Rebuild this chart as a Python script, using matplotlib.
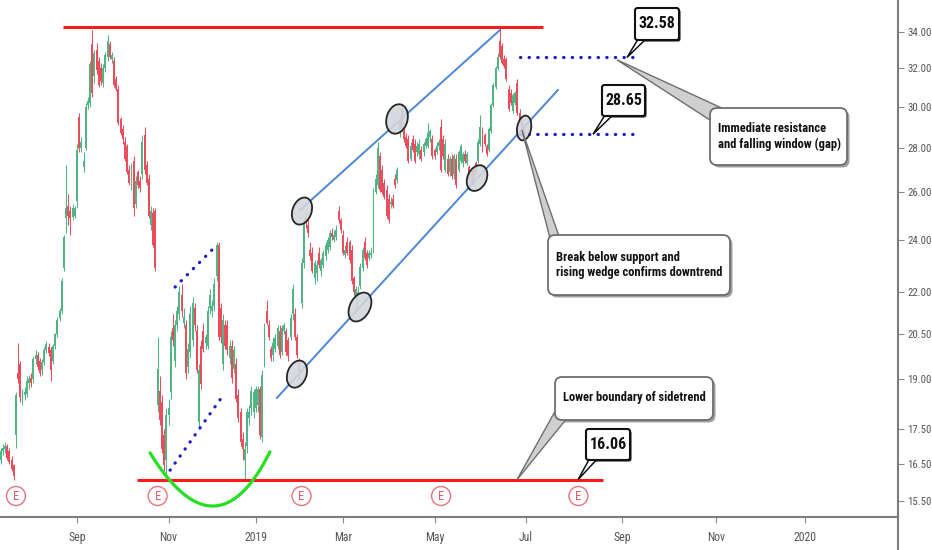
import numpy as np
import pandas as pd
import matplotlib
matplotlib.use("Agg")
import matplotlib.pyplot as plt
from matplotlib import font_manager as fm
from matplotlib.font_manager import FontProperties
from matplotlib.patches import Ellipse, FancyBboxPatch, Polygon, Circle
from matplotlib.ticker import NullLocator, NullFormatter

plt.rcParams['font.family'] = ['Liberation Sans', 'DejaVu Sans']

# ---------------- data (daily OHLC, one value per trading day) ----------------
opens = [
    16.60, 16.85, 16.90, 17.00, 16.85, 16.60, 16.45, 17.30, 19.20, 19.50,
    18.40, 18.50, 18.55, 18.90, 19.05, 19.00, 19.65, 19.80, 19.60, 19.30,
    19.55, 19.95, 20.05, 19.95, 19.60, 20.10, 20.50, 21.05, 21.30, 22.90,
    24.90, 25.40, 25.20, 24.95, 25.00, 25.60, 29.50, 28.00, 27.10, 28.00,
    30.10, 30.20, 33.30, 31.60, 33.00, 32.40, 32.00, 31.20, 32.00, 32.60,
    33.30, 32.50, 32.40, 31.40, 30.90, 29.40, 28.90, 28.30, 28.10, 27.00,
    26.30, 27.40, 25.50, 26.90, 26.50, 26.80, 28.60, 27.20, 26.60, 24.60,
    25.10, 25.20, 18.20, 18.65, 18.30, 17.30, 16.60, 17.90, 18.60, 20.70,
    19.60, 20.80, 21.20, 21.90, 20.90, 20.80, 19.40, 19.90, 20.30, 21.40,
    20.60, 17.70, 20.10, 20.60, 20.20, 20.10, 21.40, 21.30, 21.50, 22.60,
    23.80, 21.40, 19.50, 20.80, 20.80, 19.70, 20.10, 19.35, 19.50, 18.50,
    18.00, 17.20, 16.60, 17.00, 17.80, 18.10, 18.00, 18.10, 18.20, 18.70,
    17.25, 19.60, 21.30, 20.80, 20.00, 19.80, 20.00, 20.10, 20.60, 19.90,
    20.60, 20.60, 20.30, 20.40, 21.20, 21.20, 20.40, 19.60, 21.60, 23.10,
    24.90, 24.60, 23.60, 23.50, 22.50, 22.70, 23.50, 22.80, 23.00, 23.35,
    23.60, 23.70, 24.30, 24.00, 24.10, 25.20, 24.80, 24.20, 23.40, 23.90,
    23.90, 23.60, 22.50, 21.75, 21.90, 22.20, 22.90, 23.90, 23.50, 23.30,
    23.40, 23.60, 26.00, 26.30, 27.60, 27.00, 26.40, 26.10, 25.70, 25.50,
    25.70, 26.60, 26.55, 28.70, 29.90, 28.80, 28.50, 28.40, 27.50, 28.40,
    28.20, 27.80, 27.70, 27.90, 27.80, 28.10, 28.10, 28.50, 28.40, 27.90,
    27.80, 28.10, 29.00, 28.40, 27.00, 27.50, 26.90, 27.50, 26.80, 27.50,
    27.00, 27.40, 27.30, 27.70, 27.30, 27.10, 26.90, 27.00, 27.30, 27.40,
    28.20, 28.80, 28.60, 28.10, 27.90, 28.80, 30.10, 31.00, 32.00, 33.50,
    33.20, 32.50, 32.50, 30.90, 30.70, 29.80, 30.20, 31.20, 29.70, 29.30,
    29.00,
]
highs = [
    16.95, 17.05, 17.10, 17.05, 16.95, 16.70, 16.50, 18.60, 20.20, 19.60,
    18.70, 18.75, 19.10, 19.15, 19.20, 19.75, 19.95, 19.90, 19.70, 19.65,
    20.05, 20.25, 20.20, 20.05, 20.15, 20.55, 21.10, 21.40, 22.50, 24.20,
    27.20, 25.90, 25.40, 25.50, 25.40, 28.20, 29.70, 28.50, 27.80, 30.20,
    30.50, 32.40, 34.10, 33.00, 33.40, 32.60, 32.30, 32.20, 32.90, 33.80,
    33.50, 32.90, 32.60, 31.60, 31.10, 29.50, 29.10, 28.50, 28.20, 27.20,
    27.30, 27.60, 26.70, 27.00, 26.70, 28.60, 29.00, 27.40, 26.80, 25.40,
    25.30, 25.30, 20.40, 19.10, 18.50, 17.50, 18.10, 18.40, 20.60, 21.20,
    21.00, 21.50, 22.20, 22.30, 21.40, 21.00, 20.20, 21.50, 21.80, 21.60,
    20.80, 19.50, 20.30, 20.90, 20.50, 21.50, 22.10, 21.70, 22.50, 23.90,
    23.90, 21.60, 21.20, 21.00, 21.00, 20.30, 20.30, 20.10, 19.70, 18.70,
    18.10, 17.40, 17.10, 18.10, 18.20, 18.80, 18.70, 18.80, 18.80, 18.80,
    19.30, 20.90, 21.70, 21.00, 20.10, 20.40, 20.50, 20.80, 20.80, 20.80,
    20.90, 20.70, 20.40, 21.20, 22.30, 21.40, 20.50, 19.70, 23.30, 24.90,
    25.10, 24.80, 23.90, 23.70, 23.20, 23.20, 23.70, 23.30, 23.60, 23.90,
    24.10, 24.40, 24.50, 24.40, 24.60, 25.40, 24.90, 24.40, 23.80, 24.10,
    24.00, 23.80, 22.60, 22.20, 22.20, 23.10, 23.70, 24.10, 23.60, 23.60,
    23.70, 26.20, 26.80, 28.30, 27.80, 27.20, 26.60, 26.30, 25.90, 25.80,
    25.90, 26.80, 27.10, 29.40, 30.10, 29.00, 28.70, 28.60, 28.30, 28.60,
    28.40, 28.30, 28.40, 28.10, 28.30, 28.50, 29.20, 28.90, 28.60, 28.00,
    28.30, 28.40, 29.40, 28.60, 28.40, 27.70, 27.60, 27.70, 27.70, 27.70,
    27.90, 28.20, 27.80, 27.90, 27.80, 27.20, 27.00, 27.10, 27.40, 28.40,
    29.60, 29.00, 28.70, 28.20, 29.00, 30.20, 31.20, 32.10, 32.80, 34.20,
    33.40, 32.70, 32.60, 31.10, 30.90, 30.70, 30.80, 31.40, 29.90, 29.50,
    29.20,
]
lows = [
    16.50, 16.75, 16.80, 16.60, 16.50, 16.30, 16.05, 16.95, 18.90, 18.30,
    18.20, 18.35, 18.45, 18.70, 18.75, 18.90, 19.50, 19.30, 19.10, 19.15,
    19.45, 19.85, 19.75, 18.95, 19.50, 20.00, 20.40, 20.95, 21.20, 22.80,
    24.30, 24.60, 24.20, 24.80, 24.90, 25.30, 27.80, 27.80, 26.90, 27.90,
    29.90, 30.00, 30.50, 31.20, 31.70, 31.00, 31.10, 31.00, 31.80, 32.40,
    32.50, 32.30, 31.00, 30.80, 29.10, 28.60, 28.20, 27.40, 26.80, 26.30,
    26.10, 25.00, 25.30, 26.20, 26.00, 26.60, 26.80, 26.30, 24.90, 24.40,
    23.70, 22.80, 18.00, 17.60, 16.80, 16.20, 16.10, 17.60, 18.40, 20.10,
    19.40, 20.60, 21.00, 21.10, 20.70, 19.00, 19.20, 19.70, 20.10, 20.60,
    19.20, 17.50, 18.70, 19.90, 20.00, 20.00, 21.20, 21.10, 21.30, 22.40,
    20.30, 20.20, 19.30, 20.00, 19.80, 19.50, 18.90, 19.20, 18.30, 17.70,
    17.00, 16.60, 16.08, 16.80, 17.60, 17.90, 17.80, 18.00, 18.00, 17.20,
    17.10, 19.40, 20.80, 20.30, 19.60, 19.60, 19.90, 20.00, 19.70, 19.80,
    20.50, 19.80, 19.60, 20.30, 21.00, 20.30, 19.70, 19.00, 21.40, 22.90,
    24.50, 24.10, 23.20, 22.70, 22.30, 22.40, 22.90, 22.60, 22.90, 23.20,
    23.50, 23.60, 24.00, 23.90, 24.00, 24.70, 24.30, 23.40, 23.30, 23.40,
    23.10, 22.30, 21.90, 21.40, 21.60, 22.10, 22.80, 23.20, 22.90, 23.20,
    23.30, 23.50, 25.90, 26.20, 26.00, 25.90, 25.70, 24.90, 24.70, 25.30,
    25.30, 26.20, 26.40, 28.50, 28.80, 28.30, 28.00, 27.30, 27.40, 27.80,
    27.30, 27.60, 27.50, 27.40, 27.60, 28.00, 28.00, 28.30, 27.50, 27.50,
    27.70, 27.90, 26.90, 27.50, 26.90, 26.70, 26.70, 26.60, 26.60, 26.20,
    26.90, 27.30, 27.10, 27.30, 27.20, 26.50, 26.30, 26.30, 26.80, 27.30,
    28.10, 27.80, 28.10, 27.60, 27.80, 28.70, 30.00, 30.90, 31.90, 32.50,
    32.20, 32.00, 31.30, 29.80, 30.10, 29.70, 30.10, 29.60, 29.20, 28.80,
    28.60,
]
closes = [
    16.85, 16.95, 17.00, 16.65, 16.55, 16.35, 16.15, 18.50, 19.00, 18.45,
    18.55, 18.60, 18.95, 19.00, 18.90, 19.65, 19.80, 19.40, 19.20, 19.55,
    19.95, 20.15, 19.85, 19.30, 20.10, 20.50, 21.00, 21.30, 22.40, 24.10,
    25.30, 25.00, 24.90, 25.30, 25.30, 27.90, 28.00, 28.30, 27.40, 30.00,
    30.30, 32.20, 30.70, 32.80, 31.90, 31.10, 31.30, 32.00, 32.70, 33.50,
    32.60, 32.70, 31.10, 30.90, 29.20, 28.70, 28.40, 27.50, 26.90, 26.40,
    27.10, 25.30, 26.50, 26.30, 26.20, 28.30, 27.00, 26.40, 25.00, 25.20,
    23.80, 22.90, 19.35, 17.75, 16.90, 16.45, 17.90, 18.10, 20.40, 20.30,
    20.80, 21.30, 22.00, 21.30, 21.10, 19.20, 20.00, 21.20, 21.60, 20.80,
    19.30, 19.30, 18.85, 20.00, 20.40, 21.30, 21.90, 21.50, 22.30, 23.80,
    20.40, 20.40, 21.00, 20.10, 19.95, 20.10, 19.05, 19.95, 18.40, 17.80,
    17.10, 16.90, 16.90, 18.00, 18.00, 18.65, 18.60, 18.70, 18.70, 17.30,
    19.15, 20.70, 20.90, 20.40, 19.70, 20.20, 20.35, 20.70, 19.80, 20.70,
    20.80, 19.90, 19.75, 21.05, 22.10, 20.40, 19.80, 19.25, 23.10, 24.70,
    24.70, 24.30, 23.35, 22.80, 23.10, 23.00, 23.00, 23.20, 23.50, 23.80,
    24.00, 24.30, 24.10, 24.20, 24.40, 24.80, 24.40, 23.50, 23.60, 23.50,
    23.20, 22.40, 22.00, 22.10, 22.00, 22.95, 23.60, 23.30, 23.00, 23.50,
    23.50, 26.10, 26.60, 28.00, 26.10, 26.00, 25.80, 25.00, 24.80, 25.50,
    25.40, 26.30, 27.00, 29.30, 28.90, 28.40, 28.10, 27.40, 28.10, 27.90,
    27.40, 28.10, 28.20, 27.50, 28.20, 28.40, 28.70, 28.80, 27.60, 27.60,
    28.10, 28.30, 27.00, 27.60, 28.20, 26.80, 27.50, 26.70, 27.60, 26.30,
    27.80, 28.10, 27.70, 27.40, 27.70, 26.60, 26.40, 26.40, 26.90, 28.30,
    29.00, 27.90, 28.20, 27.70, 28.90, 30.10, 31.10, 32.00, 32.60, 32.60,
    32.30, 32.10, 31.40, 29.90, 30.20, 30.60, 30.70, 29.70, 29.30, 28.90,
    28.70,
]

start_date = "2018-07-16"
end_date = "2020-04-30"
market_holidays = ["2018-09-03", "2018-11-22", "2018-12-05", "2018-12-25",
                   "2019-01-01", "2019-01-21", "2019-02-18", "2019-04-19",
                   "2019-05-27", "2019-07-04", "2019-09-02", "2019-11-28",
                   "2019-12-25", "2020-01-01", "2020-01-20", "2020-02-17"]
month_starts = ["2018-09-01", "2018-11-01", "2019-01-01", "2019-03-01", "2019-05-01",
                "2019-07-01", "2019-09-01", "2019-11-01", "2020-01-01"]
month_labels = ["Sep", "Nov", "2019", "Mar", "May", "Jul", "Sep", "Nov", "2020"]
price_ticks = [15.50, 16.50, 17.50, 19.00, 20.50, 22.00, 24.00, 26.00, 28.00, 30.00, 32.00, 34.00]

resistance_level = 34.29
support_level = 16.06
gap_levels = [32.58, 28.65]
earnings_bars = [7, 72, 138, 202, 265]

# drawing geometry (bar index, price)
top_line_span = (28.6, 248.8)
bottom_line_span = (62.5, 276.3)
gap_line_span = (238.2, 291.9)
channel_upper = [(137.3, 25.23), (229.0, 34.11)]
channel_lower = [(126.7, 18.42), (255.6, 30.85)]
flag_upper = [(80.0, 22.18), (99.2, 23.80)]
flag_lower = [(77.7, 16.32), (101.5, 18.45)]
bowl = [(68.5, 16.80), (97.4, 15.37), (123.5, 16.83)]
touch_marks = [(138.2, 25.19, 19, 28, 20), (135.9, 19.17, 19, 28, 20),
               (164.8, 21.45, 20, 31, 28), (181.8, 29.39, 21, 30, 15),
               (218.5, 26.62, 19, 27, 25), (240.1, 28.95, 14, 25, 10)]

# ---------------- fonts: prefer a narrow sans if one is installed ----------------
def _wt(v):
    if isinstance(v, (int, float)):
        return float(v)
    return {'bold': 700, 'normal': 400, 'regular': 400, 'medium': 500, 'semibold': 600,
            'demibold': 600, 'light': 300, 'heavy': 800, 'black': 900}.get(str(v).lower(), 400)

NARROW_ORDER = ['Liberation Sans Narrow', 'Arial Narrow', 'Roboto Condensed',
                'Open Sans Condensed', 'Noto Sans Condensed', 'DejaVu Sans Condensed',
                'Noto Sans', 'DejaVu Sans', 'Open Sans', 'Roboto']

def pick_narrow(bold):
    best, best_key = None, None
    for f in fm.fontManager.ttflist:
        narrowish = ('Narrow' in f.name or 'Condensed' in f.name or
                     str(f.stretch) in ('condensed', 'semi-condensed', 'extra-condensed'))
        if not narrowish or f.style != 'normal':
            continue
        rank = NARROW_ORDER.index(f.name) if f.name in NARROW_ORDER else len(NARROW_ORDER)
        key = (rank, abs(_wt(f.weight) - (700 if bold else 400)),
               0 if str(f.stretch) in ('condensed', 'semi-condensed') else 1)
        if best_key is None or key < best_key:
            best, best_key = f, key
    return best

_nb = pick_narrow(True)
_nr = pick_narrow(False)
if _nb is not None and _nr is not None:
    FP_BOLD = FontProperties(fname=_nb.fname)
    FP_REG = FontProperties(fname=_nr.fname)
    NARROW = True
else:
    FP_BOLD = FontProperties(family='Liberation Sans', weight='bold')
    FP_REG = FontProperties(family='Liberation Sans')
    NARROW = False

def fs(narrow_size, wide_size):
    return narrow_size if NARROW else wide_size

# ---------------- figure ----------------
W, H = 932, 550
fig = plt.figure(figsize=(W / 100, H / 100), dpi=100)
fig.patch.set_facecolor('white')
ax = fig.add_axes([0, 33 / H, 898 / W, 517 / H])
ax.set_facecolor('white')
ax.set_yscale('log')
ax.set_ylim(15.09, 35.87)
ax.set_xlim(-0.32, 411.6)

UP, DOWN = '#4fb584', '#eb4d5c'
idx = np.arange(len(closes))
o = np.array(opens); c = np.array(closes)
cols = np.where(c >= o, UP, DOWN)
ax.vlines(idx, lows, highs, colors=cols, linewidth=0.75, zorder=2)
bot = np.minimum(o, c)
hgt = np.maximum(np.abs(c - o), 0.06)
ax.bar(idx, hgt, bottom=bot, width=0.9, color=cols, linewidth=0, zorder=3)

# axes styling
dates = pd.bdate_range(start_date, end_date, freq='C', holidays=market_holidays)
tick_pos = [int(dates.searchsorted(pd.Timestamp(m))) for m in month_starts]
ax.set_xticks(tick_pos)
ax.set_xticklabels(month_labels)
ax.yaxis.tick_right()
ax.yaxis.set_minor_locator(NullLocator())
ax.yaxis.set_minor_formatter(NullFormatter())
ax.set_yticks(price_ticks)
ax.set_yticklabels([f"{v:.2f}" for v in price_ticks])
ax.tick_params(axis='y', length=4, width=0.8, color='#8a8a8a', labelcolor='#555555', pad=2.5)
ax.tick_params(axis='x', length=4, width=0.8, color='#8a8a8a', labelcolor='#555555', pad=6)
for lbl in ax.get_yticklabels():
    lbl.set_fontproperties(FP_REG)
    lbl.set_fontsize(fs(7.8, 7.0))
for lbl in ax.get_xticklabels():
    lbl.set_fontproperties(FP_REG)
    lbl.set_fontsize(fs(8.5, 7.8))
for s in ['top', 'left']:
    ax.spines[s].set_visible(False)
for s in ['right', 'bottom']:
    ax.spines[s].set_color('#7d7d7d')
    ax.spines[s].set_linewidth(1.5)

# horizontal red levels
ax.hlines(resistance_level, *top_line_span, color='#ff1a1a', lw=2.2, zorder=4)
ax.hlines(support_level, *bottom_line_span, color='#ff1a1a', lw=2.2, zorder=4)

# channel lines
for seg in (channel_upper, channel_lower):
    ax.plot([p[0] for p in seg], [p[1] for p in seg], color='#4a86d8', lw=1.4, zorder=4)

# dotted blue lines
dot_kw = dict(color='#1a1ac8', lw=2.3, linestyle=(0, (0.1, 2.6)),
              dash_capstyle='round', zorder=4)
for lvl in gap_levels:
    ax.plot(list(gap_line_span), [lvl, lvl], **dot_kw)
for seg in (flag_upper, flag_lower):
    ax.plot([p[0] for p in seg], [p[1] for p in seg], **dot_kw)

# green bowl (quadratic through 3 points in display space)
(x0, y0), (xm, ym), (x2, y2) = bowl
ly0, lym, ly2 = np.log(y0), np.log(ym), np.log(y2)
xc = 2 * xm - (x0 + x2) / 2
lyc = 2 * lym - (ly0 + ly2) / 2
t = np.linspace(0, 1, 80)
bx = (1 - t) ** 2 * x0 + 2 * t * (1 - t) * xc + t ** 2 * x2
by = np.exp((1 - t) ** 2 * ly0 + 2 * t * (1 - t) * lyc + t ** 2 * ly2)
ax.plot(bx, by, color='#22e022', lw=2.3, solid_capstyle='round', zorder=4)

# ---------------- overlay (pixel space) ----------------
ov = fig.add_axes([0, 0, 1, 1])
ov.set_xlim(0, W)
ov.set_ylim(H, 0)
ov.axis('off')
ov.patch.set_alpha(0)
ov.set_zorder(5)

def px(i, p):
    d = ax.transData.transform((i, p))
    return d[0], H - d[1]

ov.plot([898, 898], [517, 550], color='#7d7d7d', lw=1.5)

for (i, p, w, h, ang) in touch_marks:
    cx, cy = px(i, p)
    ov.add_patch(Ellipse((cx, cy), w, h, angle=ang, fc='#d3d6db', ec='#111111',
                         lw=1.3, alpha=0.9, zorder=6))

for e in earnings_bars:
    ex, _ = px(e, 20)
    ov.add_patch(Circle((ex, 496), 9.5, fc='white', ec='#e8727e', lw=1.0, zorder=6))
    te = ov.text(ex, 496.5, 'E', ha='center', va='center', color='#e05a6a',
                 fontproperties=FP_REG, zorder=7)
    te.set_fontsize(fs(9, 8))

def gray_callout(x, y, w, h, tip, bases, text, tx, ty, ha):
    tpx = px(*tip)
    ov.add_patch(FancyBboxPatch((x + 2.5, y + 2.5), w, h, boxstyle='round,pad=0,rounding_size=7',
                                fc='#a0a0a0', ec='none', zorder=8))
    ov.add_patch(Polygon([tpx, bases[0], bases[1]], closed=True, fc='#cfcfcf', ec='#6e6e6e',
                         lw=1.0, zorder=8))
    ov.add_patch(FancyBboxPatch((x, y), w, h, boxstyle='round,pad=0,rounding_size=7',
                                fc='white', ec='#6e6e6e', lw=1.3, zorder=9))
    t_ = ov.text(tx, ty, text, ha=ha, va='center', color='#111111', linespacing=1.25, zorder=10,
                 fontproperties=FP_BOLD)
    t_.set_fontsize(fs(9.0, 7.8))

def price_callout(x, y, w, h, tip, bases, text):
    tpx = px(*tip)
    ov.add_patch(FancyBboxPatch((x + 1.5, y + 1.5), w, h, boxstyle='round,pad=0,rounding_size=2.5',
                                fc='#111111', ec='none', zorder=8))
    ov.add_patch(Polygon([tpx, bases[0], bases[1]], closed=True, fc='white', ec='#111111',
                         lw=1.1, zorder=8))
    ov.add_patch(FancyBboxPatch((x, y), w, h, boxstyle='round,pad=0,rounding_size=2.5',
                                fc='white', ec='#111111', lw=1.5, zorder=9))
    t_ = ov.text(x + w / 2, y + h / 2, text, ha='center', va='center', color='#111111', zorder=10,
                 fontproperties=FP_BOLD)
    t_.set_fontsize(fs(11.5, 10))

gray_callout(710, 108, 137, 57, (282.7, 32.45), [(713, 122), (726, 110)],
             "Immediate resistance\nand falling window (gap)", 718, 136.5, 'left')
gray_callout(548, 235, 182, 60, (239.1, 28.85), [(551, 242), (561, 242)],
             "Break below support and\nrising wedge confirms downtrend", 556, 265, 'left')
gray_callout(555, 377, 158, 43, (236.8, 16.06), [(558, 406), (568, 417)],
             "Lower boundary of sidetrend", 634, 397.5, 'center')

price_callout(635, 8, 44, 32, (287.3, gap_levels[0]), [(640, 36), (649, 36)], f"{gap_levels[0]:.2f}")
price_callout(602, 85, 43, 31, (271.7, gap_levels[1]), [(607, 112), (616, 112)], f"{gap_levels[1]:.2f}")
price_callout(586, 429, 44, 31, (264.8, support_level), [(591, 456), (600, 456)], f"{support_level:.2f}")

fig.savefig('out.png', dpi=100, facecolor='white')
